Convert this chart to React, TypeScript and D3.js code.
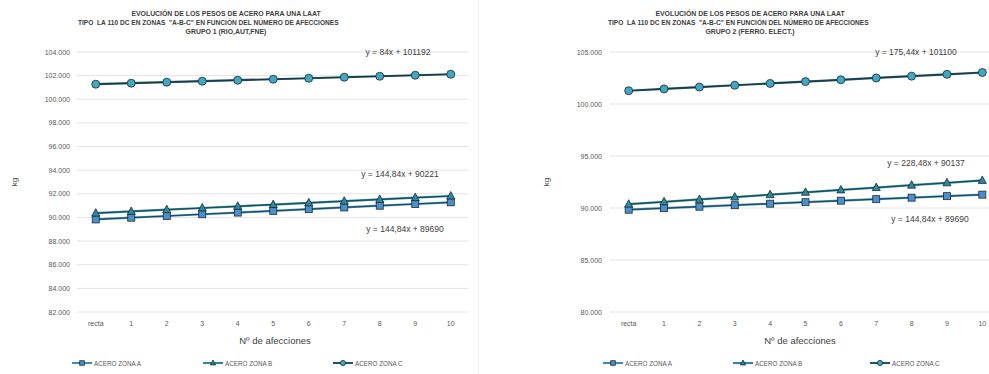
import React from "react";
import * as d3 from "d3";

const categories = ["recta", "1", "2", "3", "4", "5", "6", "7", "8", "9", "10"];

// Grupo 1
const g1ZonaA = [89835, 89980, 90125, 90269, 90414, 90559, 90704, 90849, 90994, 91139, 91283];
const g1ZonaB = [90366, 90511, 90656, 90800, 90945, 91090, 91235, 91380, 91525, 91670, 91814];
const g1ZonaC = [101276, 101360, 101444, 101528, 101612, 101696, 101780, 101864, 101948, 102032, 102116];
const g1Ticks = [82000, 84000, 86000, 88000, 90000, 92000, 94000, 96000, 98000, 100000, 102000, 104000];
const g1Trends = ["y = 84x + 101192", "y = 144,84x + 90221", "y = 144,84x + 89690"];

// Grupo 2
const g2ZonaA = [89835, 89980, 90125, 90269, 90414, 90559, 90704, 90849, 90994, 91139, 91283];
const g2ZonaB = [90365, 90594, 90822, 91051, 91279, 91508, 91736, 91965, 92193, 92422, 92650];
const g2ZonaC = [101275, 101451, 101626, 101802, 101977, 102153, 102328, 102503, 102679, 102854, 103030];
const g2Ticks = [80000, 85000, 90000, 95000, 100000, 105000];
const g2Trends = ["y = 175,44x + 101100", "y = 228,48x + 90137", "y = 144,84x + 89690"];

const seriesNames = ["ACERO ZONA A", "ACERO ZONA B", "ACERO ZONA C"];
const titleLine1 = "EVOLUCIÓN DE LOS PESOS DE ACERO PARA UNA LAAT";
const titleLine2 = "TIPO  LA 110 DC EN ZONAS  \"A-B-C\" EN FUNCIÓN DEL NÚMERO DE AFECCIONES";
const g1Line3 = "GRUPO 1 (RIO,AUT,FNE)";
const g2Line3 = "GRUPO 2 (FERRO. ELECT.)";

const FONT = "'Liberation Sans', Arial, sans-serif";
const fmt = (v: number) => d3.format(",")(v).replace(/,/g, ".");

const styles = [
  { line: "#3a8db5", fill: "#4a90d0", shape: "square" },
  { line: "#2a8a9c", fill: "#2b8a9e", shape: "triangle" },
  { line: "#1f5566", fill: "#3fa9c4", shape: "circle" },
];

function Marker({ shape, x, y, fill, s = 1 }: { shape: string; x: number; y: number; fill: string; s?: number }) {
  const stroke = "#1a2a30";
  if (shape === "square")
    return <rect x={x - 3.5 * s} y={y - 3.5 * s} width={7 * s} height={7 * s} fill={fill} stroke={stroke} strokeWidth={0.8} />;
  if (shape === "triangle")
    return (
      <path
        d={`M${x},${y - 4.5 * s}L${x + 4 * s},${y + 3 * s}L${x - 4 * s},${y + 3 * s}Z`}
        fill={fill}
        stroke={stroke}
        strokeWidth={0.8}
      />
    );
  return <circle cx={x} cy={y} r={4 * s} fill={fill} stroke={stroke} strokeWidth={0.8} />;
}

type ChartProps = {
  xRange: [number, number];
  yDomain: [number, number];
  ticks: number[];
  series: number[][];
  trends: string[];
  trendPos: [number, number][];
  line3: string;
  titleCx: number;
  line2Start: number;
  yLabelX: number;
  tickRight: number;
  gridLeft: number;
  legendX: number[];
  axisTitleX: number;
};

function Chart(p: ChartProps) {
  const x = d3.scaleBand<string>().domain(categories).range(p.xRange);
  const y = d3.scaleLinear().domain(p.yDomain).range([312, 52]);
  const cx = (c: string) => (x(c) as number) + x.bandwidth() / 2;
  const lineGen = d3
    .line<number>()
    .x((_, i) => cx(categories[i]))
    .y((d) => y(d));
  return (
    <g>
      <text x={p.titleCx} y={16} textAnchor="middle" fontFamily={FONT} fontWeight="bold" fontSize={6.9} fill="#404040">
        {titleLine1}
      </text>
      <text x={p.line2Start} y={24.5} fontFamily={FONT} fontWeight="bold" fontSize={6.6} fill="#404040" style={{ whiteSpace: "pre" }}>
        {titleLine2}
      </text>
      <text x={p.titleCx} y={34} textAnchor="middle" fontFamily={FONT} fontWeight="bold" fontSize={6.9} fill="#404040">
        {p.line3}
      </text>
      {p.ticks.map((t) => (
        <g key={t}>
          <line x1={p.gridLeft} x2={p.xRange[1]} y1={y(t)} y2={y(t)} stroke="#e4e4e4" strokeWidth={1} />
          <text x={p.tickRight} y={y(t) + 2.5} textAnchor="end" fontFamily={FONT} fontSize={7} fill="#595959">
            {fmt(t)}
          </text>
        </g>
      ))}
      {categories.map((c) => (
        <text key={c} x={cx(c)} y={326} textAnchor="middle" fontFamily={FONT} fontSize={7} fill="#595959">
          {c}
        </text>
      ))}
      <text x={p.axisTitleX} y={344} textAnchor="middle" fontFamily={FONT} fontSize={9.5} fill="#404040">
        Nº de afecciones
      </text>
      <text
        transform={`translate(${p.yLabelX},182) rotate(-90)`}
        textAnchor="middle"
        fontFamily={FONT}
        fontSize={8}
        fill="#404040"
      >
        kg
      </text>
      {p.series.map((s, i) => (
        <g key={i}>
          <path d={lineGen(s) as string} fill="none" stroke={styles[i].line} strokeWidth={2.2} />
          <path d={lineGen(s) as string} fill="none" stroke="#16313a" strokeWidth={0.8} />
        </g>
      ))}
      {p.series.map((s, i) =>
        s.map((v, j) => <Marker key={`${i}-${j}`} shape={styles[i].shape} x={cx(categories[j])} y={y(v)} fill={styles[i].fill} />)
      )}
      {p.trends.map((t, i) => (
        <text key={t} x={p.trendPos[i][0]} y={p.trendPos[i][1]} textAnchor="middle" fontFamily={FONT} fontSize={8.5} fill="#404040">
          {t}
        </text>
      ))}
      {seriesNames.map((n, i) => (
        <g key={n}>
          <line x1={p.legendX[i] - 10} x2={p.legendX[i] + 10} y1={363} y2={363} stroke={styles[i].line} strokeWidth={2} />
          <Marker shape={styles[i].shape} x={p.legendX[i]} y={363} fill={styles[i].fill} s={0.65} />
          <text x={p.legendX[i] + 12} y={365.5} fontFamily={FONT} fontSize={6.3} fill="#595959">
            {n}
          </text>
        </g>
      ))}
    </g>
  );
}

export default function App() {
  return (
    <svg width={989} height={374} style={{ position: "absolute", left: 0, top: 0, background: "#fff" }}>
      <rect width={989} height={374} fill="#fff" />
      <line x1={478.5} x2={478.5} y1={0} y2={374} stroke="#eeeeee" strokeWidth={1} />
      <Chart
        xRange={[78, 468.5]}
        yDomain={[82000, 104000]}
        ticks={g1Ticks}
        series={[g1ZonaA, g1ZonaB, g1ZonaC]}
        trends={g1Trends}
        trendPos={[[398, 55], [400, 177], [405, 232]]}
        line3={g1Line3}
        titleCx={226}
        line2Start={78}
        yLabelX={17}
        tickRight={70}
        gridLeft={77}
        legendX={[82, 213, 343]}
        axisTitleX={275}
      />
      <Chart
        xRange={[611, 1000]}
        yDomain={[80000, 105000]}
        ticks={g2Ticks}
        series={[g2ZonaA, g2ZonaB, g2ZonaC]}
        trends={g2Trends}
        trendPos={[[916, 55], [926, 166], [930, 222]]}
        line3={g2Line3}
        titleCx={750}
        line2Start={608}
        yLabelX={549}
        tickRight={602}
        gridLeft={610}
        legendX={[613, 743, 880]}
        axisTitleX={800}
      />
    </svg>
  );
}
